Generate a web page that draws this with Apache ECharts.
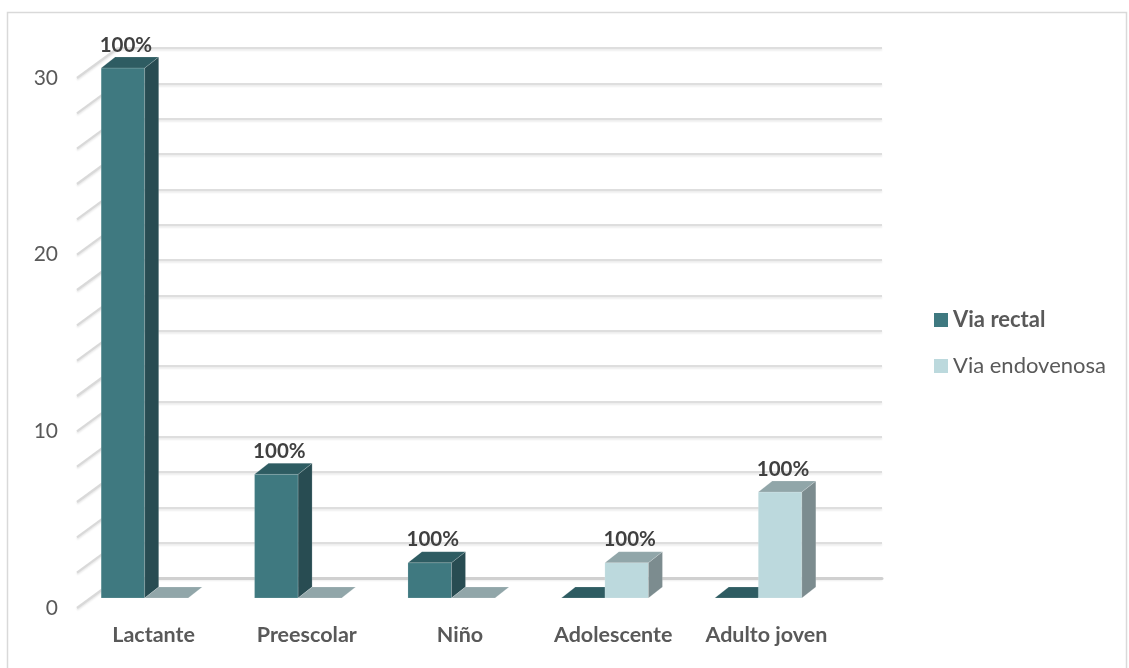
<!DOCTYPE html>
<html>
<head>
<meta charset="utf-8">
<script src="https://cdn.jsdelivr.net/npm/echarts@6/dist/echarts.min.js"></script>
<style>
  html, body { margin: 0; padding: 0; background: #ffffff; }
  #chart { width: 1129px; height: 668px; }
</style>
</head>
<body>
<div id="chart"></div>
<script>
// Grupos de edad y cantidad de pacientes por vía de administración
const categories = ['Lactante', 'Preescolar', 'Niño', 'Adolescente', 'Adulto joven'];
const viaRectal = [30, 7, 2, 0, 0];
const viaEndovenosa = [0, 0, 0, 2, 6];
const rectalLabels = ['100%', '100%', '100%', '', ''];
const endovenosaLabels = ['', '', '', '100%', '100%'];
const wallTicks = [0, 2, 4, 6, 8, 10, 12, 14, 16, 18, 20, 22, 24, 26, 28, 30];

const FONT = 'Lato, "Open Sans", sans-serif';
const TEXT = '#595959';

// Colores de cada cara de las columnas 3D
const palette = {
  rectal: { front: '#3f7980', side: '#284c52', top: '#2e5c62' },
  endo:   { front: '#bcd9dd', side: '#7c8c8f', top: '#91a6a9' }
};

const DEPTH_X = 14, DEPTH_Y = 11;      // profundidad de cada columna
const WALL_X = 41, WALL_Y = 30;        // del eje frontal a la pared del fondo

function barRenderer(values, labels, colors, slot) {
  return function (params, api) {
    const i = api.value(0);
    const v = api.value(1);
    const band = api.size([1, 0])[0];
    const w = band * 0.2838;
    const base = api.coord([i, 0]);
    const top = api.coord([i, v]);
    const x0 = base[0] - w + slot * w;
    const x1 = x0 + w;
    const yb = base[1];
    const yt = top[1];
    const children = [];
    const edge = { stroke: 'rgba(255,255,255,0.25)', lineWidth: 0.6 };
    if (v > 0) {
      children.push({
        type: 'rect',
        shape: { x: x0, y: yt, width: w, height: yb - yt },
        style: Object.assign({ fill: colors.front }, edge)
      });
      children.push({
        type: 'polygon',
        shape: { points: [[x1, yt], [x1 + DEPTH_X, yt - DEPTH_Y], [x1 + DEPTH_X, yb - DEPTH_Y], [x1, yb]] },
        style: Object.assign({ fill: colors.side }, edge)
      });
    }
    children.push({
      type: 'polygon',
      shape: { points: [[x0, yt], [x1, yt], [x1 + DEPTH_X, yt - DEPTH_Y], [x0 + DEPTH_X, yt - DEPTH_Y]] },
      style: Object.assign({ fill: colors.top }, edge)
    });
    const lab = labels[i];
    if (lab) {
      children.push({
        type: 'text',
        style: {
          text: lab, x: x0 + w / 2 + 3, y: yt - DEPTH_Y - 12,
          fill: '#404040', font: 'bold 20.5px ' + FONT,
          align: 'center', verticalAlign: 'middle'
        }
      });
    }
    return { type: 'group', children: children };
  };
}

const chart = echarts.init(document.getElementById('chart'), null, { renderer: 'canvas' });

chart.setOption({
  backgroundColor: '#ffffff',
  animation: false,
  textStyle: { fontFamily: FONT },
  graphic: [{
    type: 'rect', silent: true, z: -10,
    shape: { x: 7.5, y: 12.5, width: 1119, height: 660 },
    style: { fill: 'none', stroke: '#d9d9d9', lineWidth: 1.5 }
  }],
  legend: {
    orient: 'vertical',
    left: 929, top: 304,
    itemWidth: 14, itemHeight: 14, itemGap: 24,
    icon: 'rect',
    textStyle: { color: TEXT, fontSize: 22, fontFamily: FONT },
    data: [
      { name: 'Via rectal', textStyle: { fontWeight: 'bold' } },
      { name: 'Via endovenosa' }
    ]
  },
  grid: [
    // pared del fondo
    { left: 118, right: 247, top: 48, bottom: 90 },
    // plano de las columnas
    { left: 68, right: 294, top: 68, bottom: 70 },
    // eje frontal con las etiquetas
    { left: 77, right: 286, top: 78, bottom: 60 }
  ],
  xAxis: [
    { gridIndex: 0, type: 'category', data: categories, position: 'top',
      axisLine: { show: true, lineStyle: { color: '#d0d0d0', width: 3 } },
      axisTick: { show: false }, axisLabel: { show: false } },
    { gridIndex: 1, type: 'category', data: categories,
      axisLine: { show: false }, axisTick: { show: false }, axisLabel: { show: false } },
    { gridIndex: 2, type: 'category', data: categories,
      axisLine: { show: false }, axisTick: { show: false },
      axisLabel: { interval: 0, hideOverlap: false, color: TEXT, fontSize: 21.5,
        fontWeight: 'bold', fontFamily: FONT, margin: 16 } }
  ],
  yAxis: [
    { gridIndex: 0, type: 'value', min: 0, max: 30, interval: 2,
      axisLine: { show: false }, axisTick: { show: false }, axisLabel: { show: false },
      splitLine: { show: true, lineStyle: { color: '#dedede', width: 2,
        shadowColor: 'rgba(0,0,0,0.10)', shadowBlur: 2, shadowOffsetY: 1.5 } } },
    { gridIndex: 1, type: 'value', min: 0, max: 30,
      axisLine: { show: false }, axisTick: { show: false }, axisLabel: { show: false },
      splitLine: { show: false } },
    { gridIndex: 2, type: 'value', min: 0, max: 30, interval: 10,
      axisLine: { show: false }, axisTick: { show: false }, splitLine: { show: false },
      axisLabel: { color: TEXT, fontSize: 21, fontFamily: FONT, margin: 19 } }
  ],
  series: [
    {
      // marcas de la pared lateral izquierda
      type: 'custom', name: 'pared', xAxisIndex: 0, yAxisIndex: 0,
      silent: true, legendHoverLink: false, z: 1,
      data: wallTicks.map(t => [0, t]),
      renderItem: function (params, api) {
        const back = api.coord([0, api.value(1)]);
        const bx = params.coordSys.x;
        return {
          type: 'line',
          shape: { x1: bx - WALL_X, y1: back[1] + WALL_Y, x2: bx, y2: back[1] },
          style: { stroke: '#d9d9d9', lineWidth: 2.2,
            shadowColor: 'rgba(0,0,0,0.10)', shadowBlur: 2, shadowOffsetY: 1.5 }
        };
      }
    },
    {
      type: 'custom', name: 'Via rectal', xAxisIndex: 1, yAxisIndex: 1, z: 3,
      itemStyle: { color: palette.rectal.front },
      data: viaRectal.map((v, i) => [i, v]),
      renderItem: barRenderer(viaRectal, rectalLabels, palette.rectal, 0)
    },
    {
      type: 'custom', name: 'Via endovenosa', xAxisIndex: 1, yAxisIndex: 1, z: 4,
      itemStyle: { color: palette.endo.front },
      data: viaEndovenosa.map((v, i) => [i, v]),
      renderItem: barRenderer(viaEndovenosa, endovenosaLabels, palette.endo, 1)
    }
  ]
});
</script>
</body>
</html>
